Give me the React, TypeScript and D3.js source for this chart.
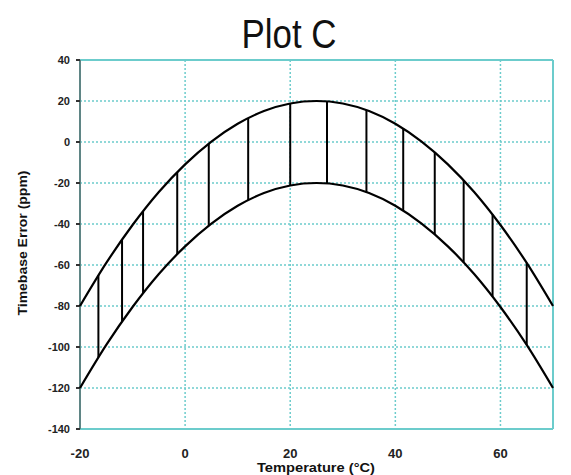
import React from "react";
import * as d3 from "d3";

const curveTemps = [-20, -15, -10, -5, 0, 5, 10, 15, 20, 25, 30, 35, 40, 45, 50, 55, 60, 65, 70];
const upperErr = [-80, -59, -40.5, -24.4, -10.9, 0.2, 8.9, 15.1, 18.8, 20, 18.8, 15.1, 8.9, 0.2, -10.9, -24.4, -40.5, -59, -80];
const lowerErr = [-120, -99, -80.5, -64.4, -50.9, -39.8, -31.1, -24.9, -21.2, -20, -21.2, -24.9, -31.1, -39.8, -50.9, -64.4, -80.5, -99, -120];

const barTemps = [-16.5, -12, -8, -1.5, 4.5, 12, 20, 27, 34.5, 41.5, 47.5, 53, 58.5, 65];
const barTop = [-65, -47.6, -33.8, -14.7, -0.8, 11.7, 18.8, 19.8, 15.5, 6.6, -5, -18.7, -35.4, -59];
const barBottom = [-105, -87.6, -73.8, -54.7, -40.8, -28.3, -21.2, -20.2, -24.5, -33.4, -45, -58.7, -75.4, -99];

const yTicks = [40, 20, 0, -20, -40, -60, -80, -100, -120, -140];
const xTicks = [-20, 0, 20, 40, 60];

export default function App() {
  const x = d3.scaleLinear().domain([-20, 70]).range([80, 553]);
  const y = d3.scaleLinear().domain([-140, 40]).range([429, 60]);
  const line = d3
    .line<[number, number]>()
    .x((d) => x(d[0]))
    .y((d) => y(d[1]))
    .curve(d3.curveMonotoneX);
  const up = line(curveTemps.map((t, i) => [t, upperErr[i]]) as [number, number][]) || "";
  const lo = line(curveTemps.map((t, i) => [t, lowerErr[i]]) as [number, number][]) || "";
  const grid = "#6ccccc";
  const font = "Arial, 'Liberation Sans', sans-serif";
  return (
    <svg width={571} height={475} style={{ position: "absolute", left: 0, top: 0, background: "#fff" }}>
      <rect x={0} y={0} width={571} height={475} fill="#fff" />
      {/* horizontal grid */}
      {yTicks.map((t) => {
        const solid = t === 40 || t === -140;
        return (
          <line
            key={"h" + t}
            x1={x(-20)}
            x2={x(70)}
            y1={y(t)}
            y2={y(t)}
            stroke={grid}
            strokeWidth={solid ? 2 : 1.5}
            strokeDasharray={solid ? undefined : "2,2"}
          />
        );
      })}
      {/* vertical grid */}
      {[0, 20, 40, 60].map((t) => (
        <line key={"v" + t} x1={x(t)} x2={x(t)} y1={y(40)} y2={y(-140)} stroke={grid} strokeWidth={1.5} strokeDasharray="2,2" />
      ))}
      <line x1={x(70)} x2={x(70)} y1={y(40)} y2={y(-140)} stroke={grid} strokeWidth={2} />
      {/* left axis */}
      <line x1={x(-20)} x2={x(-20)} y1={y(40)} y2={y(-140)} stroke="#5f8585" strokeWidth={2} />
      {yTicks.map((t) => (
        <g key={"yt" + t}>
          <line x1={x(-20) - 4} x2={x(-20)} y1={y(t)} y2={y(t)} stroke="#333" strokeWidth={2} />
          <text x={70} y={y(t) + 4} textAnchor="end" fontFamily={font} fontSize={11} fontWeight="bold" fill="#222">
            {t}
          </text>
        </g>
      ))}
      {xTicks.map((t) => (
        <text key={"xt" + t} x={x(t)} y={458} textAnchor="middle" fontFamily={font} fontSize={13} fontWeight="bold" fill="#222">
          {t}
        </text>
      ))}
      {/* connectors */}
      {barTemps.map((t, i) => (
        <line key={"b" + i} x1={x(t)} x2={x(t)} y1={y(barTop[i])} y2={y(barBottom[i])} stroke="#000" strokeWidth={2} />
      ))}
      <path d={up} fill="none" stroke="#000" strokeWidth={2.2} />
      <path d={lo} fill="none" stroke="#000" strokeWidth={2.2} />
      {/* titles */}
      <text x={289} y={48} textAnchor="middle" fontFamily={font} fontSize={41} fill="#111" textLength={95} lengthAdjust="spacingAndGlyphs">
        Plot C
      </text>
      <text x={316} y={472} textAnchor="middle" fontFamily={font} fontSize={12} fontWeight="bold" fill="#111" textLength={118} lengthAdjust="spacingAndGlyphs">
        Temperature (°C)
      </text>
      <text
        transform="translate(27,243) rotate(-90)"
        textAnchor="middle"
        fontFamily={font}
        fontSize={12}
        fontWeight="bold"
        fill="#111"
        textLength={145}
        lengthAdjust="spacingAndGlyphs"
      >
        Timebase Error (ppm)
      </text>
    </svg>
  );
}
